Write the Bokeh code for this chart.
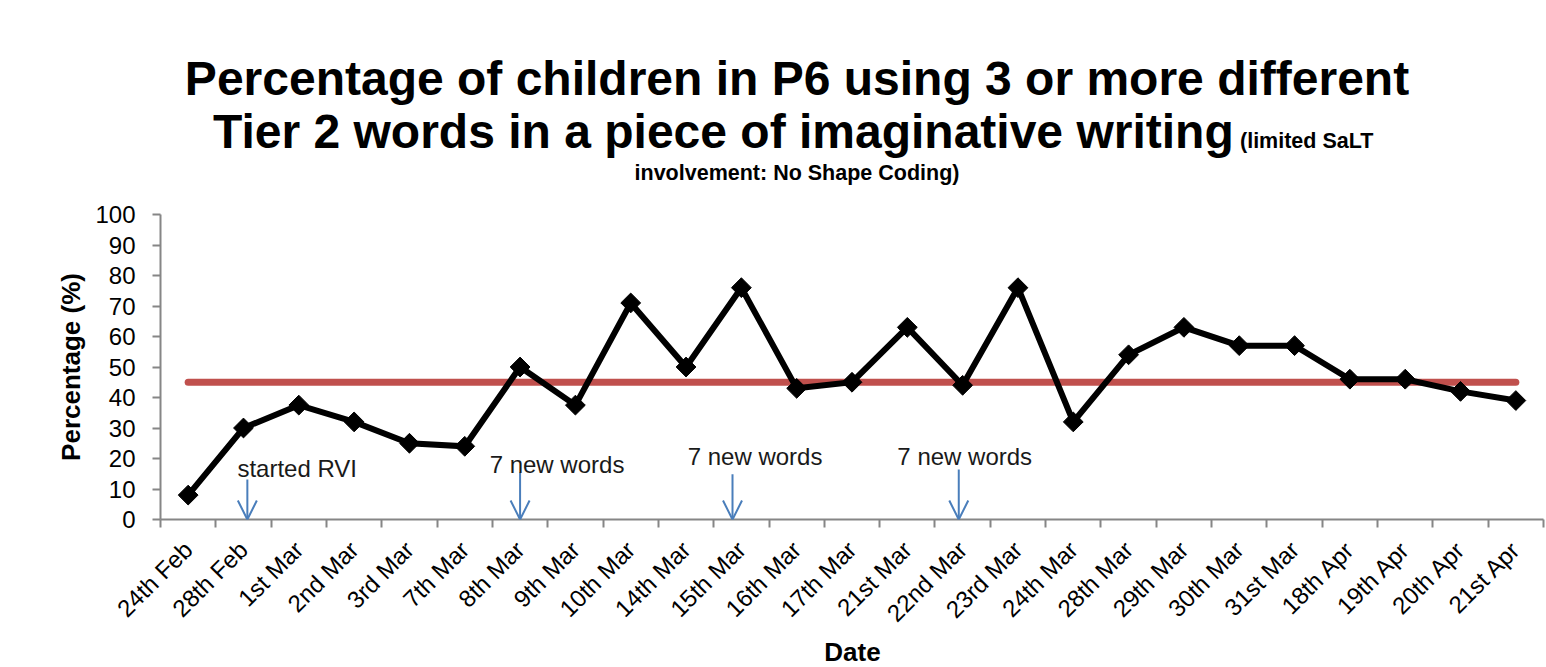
import math
from bokeh.plotting import figure
from bokeh.models import (Range1d, LinearAxis, FixedTicker, Label, Arrow, OpenHead,
                          ColumnDataSource, Div)
from bokeh.layouts import column
from bokeh.embed import file_html
from bokeh.resources import INLINE

# ---------------- data ----------------
dates = ["24th Feb", "28th Feb", "1st Mar", "2nd Mar", "3rd Mar", "7th Mar", "8th Mar",
         "9th Mar", "10th Mar", "14th Mar", "15th Mar", "16th Mar", "17th Mar", "21st Mar",
         "22nd Mar", "23rd Mar", "24th Mar", "28th Mar", "29th Mar", "30th Mar", "31st Mar",
         "18th Apr", "19th Apr", "20th Apr", "21st Apr"]
percent = [8, 30, 37.5, 32, 25, 24, 50, 37.5, 71, 50, 76, 43, 45, 63, 44, 76, 32, 54, 63,
           57, 57, 46, 46, 42, 39]
mean_level = 45
y_ticks = [0, 10, 20, 30, 40, 50, 60, 70, 80, 90, 100]

title_line1 = "Percentage of children in P6 using 3 or more different"
title_line2 = "Tier 2 words in a piece of imaginative writing"
title_small_a = "(limited SaLT"
title_small_b = "involvement: No Shape Coding)"
x_label = "Date"
y_label = "Percentage (%)"

note_texts = ["started RVI", "7 new words", "7 new words", "7 new words"]
arrow_dates = ["28th Feb", "8th Mar", "15th Mar", "22nd Mar"]
arrow_offsets = [0.07, 0.0, -0.16, -0.07]
arrow_tops = [13.1, 15.4, 14.8, 16.4]
note_x = [1.39, 5.95, 9.53, 13.32]
note_y = [16.7, 18.0, 20.7, 20.7]

FONT = "Liberation Sans"
AXIS_GREY = "#868686"
BLUE = "#4A7EBB"
RED = "#C0504D"

W, H = 1546, 667
HEAD_H = 196
FOOT_TOP = 645
FOOT_H = H - FOOT_TOP

n = len(dates)
centers = [i + 0.5 for i in range(n)]          # category slots on the x scale
pos = dict(zip(dates, centers))

# ---------------- title block ----------------
def span(txt, left, top, size, center=False, lh="1"):
    tr = "transform:translateX(-50%);" if center else ""
    return (f'<span style="position:absolute;left:{left}px;top:{top}px;{tr}'
            f'font-family:\'{FONT}\';font-weight:bold;font-size:{size}px;'
            f'line-height:{lh};white-space:nowrap;color:black">{txt}</span>')

head_html = (f'<div style="position:relative;width:{W}px;height:{HEAD_H}px;margin:0;padding:0">'
             + span(title_line1, 797, 55.0, 48, center=True)
             + span(title_line2, 213, 108.4, 48)
             + span(title_small_a, 1240, 130.8, 21.5)
             + span(title_small_b, 797, 162.8, 21.5, center=True)
             + '</div>')
head = Div(text=head_html, width=W, height=HEAD_H, margin=(0, 0, 0, 0))

foot_html = (f'<div style="position:relative;width:{W}px;height:{FOOT_H}px;margin:0;padding:0">'
             + span(x_label, 852.5, -4, 26, center=True, lh=f"{FOOT_H}px")
             + '</div>')
foot = Div(text=foot_html, width=W, height=FOOT_H, margin=(0, 0, 0, 0))

# ---------------- plot ----------------
p = figure(width=W, height=FOOT_TOP - HEAD_H,
           x_range=Range1d(0, n), y_range=Range1d(0, 100),
           x_axis_type=None, y_axis_type=None,
           output_backend="svg", toolbar_location=None,
           min_border_left=160, min_border_right=3,
           min_border_top=214 - HEAD_H, min_border_bottom=FOOT_TOP - 519,
           margin=(0, 0, 0, 0))
p.title = None
p.outline_line_color = None
p.background_fill_color = "white"
p.border_fill_color = "white"
p.xgrid.visible = False
p.ygrid.visible = False

# y axis
yaxis = LinearAxis(ticker=FixedTicker(ticks=y_ticks), axis_label=y_label)
yaxis.axis_line_color = AXIS_GREY
yaxis.axis_line_width = 2
yaxis.major_tick_line_color = AXIS_GREY
yaxis.major_tick_line_width = 2
yaxis.major_tick_out = 8
yaxis.major_tick_in = 0
yaxis.minor_tick_line_color = None
yaxis.major_label_text_font = FONT
yaxis.major_label_text_font_size = "24px"
yaxis.major_label_text_color = "black"
yaxis.major_label_standoff = 17
yaxis.axis_label_text_font = FONT
yaxis.axis_label_text_font_size = "26px"
yaxis.axis_label_text_font_style = "bold"
yaxis.axis_label_text_color = "black"
yaxis.axis_label_standoff = 6
p.add_layout(yaxis, "left")

# x axis: boundary ticks between categories
bounds = list(range(n + 1))
bax = LinearAxis(ticker=FixedTicker(ticks=bounds))
bax.major_label_overrides = {i: "" for i in bounds}
bax.major_label_text_font_size = "0px"
bax.major_label_standoff = 0
bax.axis_line_color = AXIS_GREY
bax.axis_line_width = 2
bax.major_tick_line_color = AXIS_GREY
bax.major_tick_line_width = 2
bax.major_tick_out = 8
bax.major_tick_in = 0
bax.minor_tick_line_color = None
p.add_layout(bax, "below")

# x axis: category labels
cax = LinearAxis(ticker=FixedTicker(ticks=centers))
cax.major_label_overrides = {c: d for c, d in zip(centers, dates)}
cax.axis_line_color = None
cax.major_tick_line_color = None
cax.minor_tick_line_color = None
cax.major_tick_out = 0
cax.major_tick_in = 0
cax.major_label_orientation = math.pi / 4
cax.major_label_text_font = FONT
cax.major_label_text_font_size = "24px"
cax.major_label_text_color = "black"
cax.major_label_standoff = 18
p.add_layout(cax, "below")

# average line
p.line(x=[pos[dates[0]], pos[dates[-1]]], y=[mean_level, mean_level], line_color=RED,
       line_width=7, line_cap="round")

# data line
src = ColumnDataSource(dict(x=[pos[d] for d in dates], v=percent))
p.line("x", "v", source=src, line_color="black", line_width=6, line_join="miter")
p.scatter("x", "v", source=src, marker="square", angle=math.pi / 4, size=14,
          fill_color="black", line_color="black")

# arrows
for d, off, top in zip(arrow_dates, arrow_offsets, arrow_tops):
    xi = pos[d] + off
    p.add_layout(Arrow(end=OpenHead(size=19, line_color=BLUE, line_width=2),
                       x_start=xi, y_start=top, x_end=xi, y_end=0,
                       line_color=BLUE, line_width=2))

for t, x, y in zip(note_texts, note_x, note_y):
    p.add_layout(Label(x=x, y=y, text=t, text_font=FONT,
                       text_font_size="24px", text_color="#1a1a1a",
                       text_align="left", text_baseline="alphabetic"))

layout = column(head, p, foot, spacing=0)
open("out.html", "w").write(file_html(layout, INLINE))
